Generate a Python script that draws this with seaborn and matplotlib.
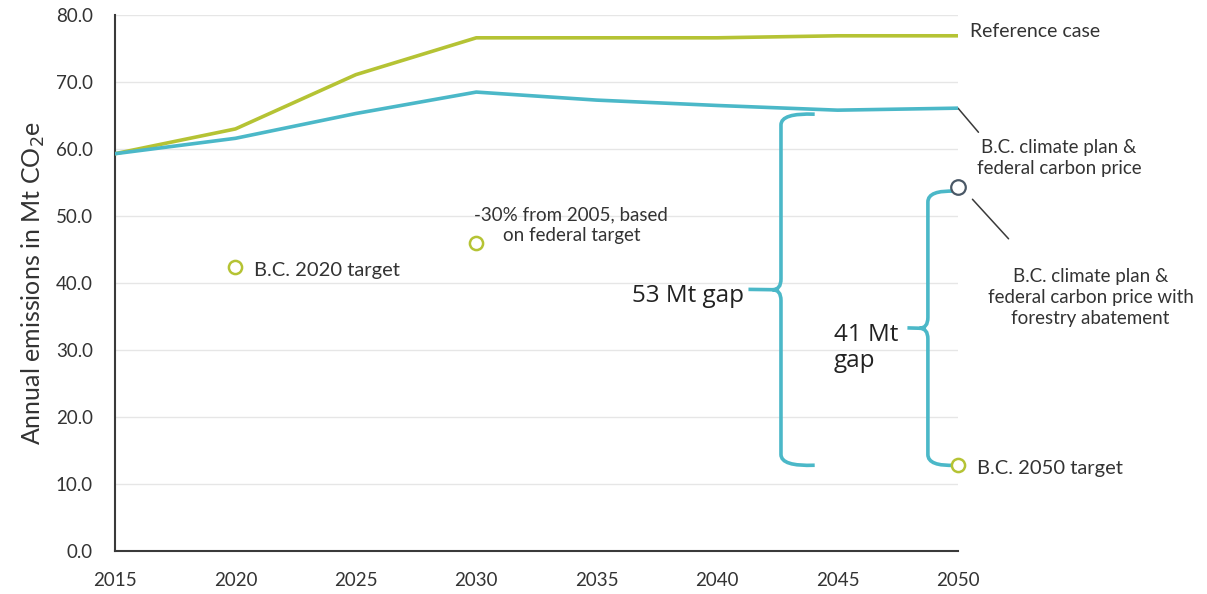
import numpy as np
import pandas as pd
import matplotlib.pyplot as plt
from matplotlib.path import Path
from matplotlib.patches import PathPatch
import seaborn as sns

# Daten
years = [2015, 2020, 2025, 2030, 2035, 2040, 2045, 2050]
reference_case = [59.3, 63.0, 71.1, 76.6, 76.6, 76.6, 76.9, 76.9]
climate_plan = [59.3, 61.6, 65.3, 68.5, 67.3, 66.5, 65.8, 66.1]
target_years = [2020, 2030, 2050]
target_values = [42.4, 46.0, 12.8]
forestry_year = 2050
forestry_value = 54.3
gap_53 = 53
gap_41 = 41

GREEN = "#b5c334"
TEAL = "#4bb8c8"
DARK = "#3a3a3a"

sns.set_style("white")
plt.rcParams['font.family'] = ['Lato', 'DejaVu Sans']

df = pd.DataFrame({"Year": years * 2,
                   "Emissions": reference_case + climate_plan,
                   "Scenario": ["Reference case"] * len(years) + ["B.C. climate plan"] * len(years)})

fig = plt.figure(figsize=(12.07, 5.94), dpi=100)
ax = fig.add_axes([0.0953, 0.0724, 0.6984, 0.9023])

sns.lineplot(data=df, x="Year", y="Emissions", hue="Scenario",
             palette={"Reference case": GREEN, "B.C. climate plan": TEAL},
             linewidth=2.6, legend=False, ax=ax, zorder=3)
sns.scatterplot(x=target_years, y=target_values, s=90, facecolor="white",
                edgecolor=GREEN, linewidth=1.8, ax=ax, zorder=5, clip_on=False)
sns.scatterplot(x=[forestry_year], y=[forestry_value], s=110, facecolor="white",
                edgecolor="#4a5866", linewidth=1.6, ax=ax, zorder=5, clip_on=False)

ax.set_xlim(2015, 2050)
ax.set_ylim(0, 80)
ax.set_xticks(range(2015, 2051, 5))
ax.set_yticks(range(0, 81, 10))
ax.set_yticklabels([f"{v:.1f}" for v in range(0, 81, 10)])
ax.grid(axis="y", color="#e6e6e6", linewidth=1)
ax.set_axisbelow(True)
for s in ["top", "right"]:
    ax.spines[s].set_visible(False)
for s in ["left", "bottom"]:
    ax.spines[s].set_color(DARK)
    ax.spines[s].set_linewidth(1.5)
ax.tick_params(axis="both", direction="out", length=6, width=1.3, color=DARK,
               labelsize=13.5, labelcolor="#333333")
ax.tick_params(axis="x", pad=9)
ax.tick_params(axis="y", pad=10)
ax.set_xlabel("")
ax.set_ylabel("Annual emissions in Mt CO$_2$e", fontsize=18, color="#333333", labelpad=6)


# geschweifte Klammer
def brace(ax, x, y0, y1, tip, mid_len, r=1.6):
    dx = 0.35
    ym = (y0 + y1) / 2
    verts = [(x + tip, y1), (x, y1 + 0.2), (x, y1 - r),
             (x, ym + r), (x, ym), (x - dx, ym),
             (x - mid_len, ym + 0.05),
             (x - dx, ym), (x, ym), (x, ym - r),
             (x, y0 + r), (x, y0 - 0.2), (x + tip, y0)]
    codes = [Path.MOVETO, Path.CURVE3, Path.CURVE3,
             Path.LINETO, Path.CURVE3, Path.CURVE3,
             Path.LINETO,
             Path.MOVETO, Path.CURVE3, Path.CURVE3,
             Path.LINETO, Path.CURVE3, Path.CURVE3]
    ax.add_patch(PathPatch(Path(verts, codes), fill=False, edgecolor=TEAL,
                           linewidth=2.6, capstyle="butt", zorder=4, clip_on=False))
    return ym


ym1 = brace(ax, 2042.65, target_values[2], climate_plan[6] - 0.6, 1.4, 1.35)
ym2 = brace(ax, 2048.75, target_values[2], forestry_value - 0.6, 1.15, 0.85)

ax.text(2041.1, ym1 - 0.9, f"{gap_53} Mt gap", fontsize=17.5, ha="right", va="center",
        color="#222222", family=["Open Sans", "DejaVu Sans"])
ax.text(2044.85, ym2 - 3.0, f"{gap_41} Mt\ngap", fontsize=17.5, ha="left", va="center",
        color="#222222", family=["Open Sans", "DejaVu Sans"], linespacing=1.1)

ax.text(2050.5, reference_case[-1] + 0.7, "Reference case", fontsize=14, color="#333333",
        va="center", clip_on=False)
ax.text(2054.2, 58.7, "B.C. climate plan &\nfederal carbon price", fontsize=13.5, color="#333333",
        ha="center", va="center", linespacing=1.3, clip_on=False)
ax.plot([2050, 2050.85], [climate_plan[-1], 62.5], color=DARK, linewidth=1.1, clip_on=False)
ax.plot([2050.6, 2052.1], [52.5, 46.6], color=DARK, linewidth=1.1, clip_on=False)
ax.text(2055.5, 37.8, "B.C. climate plan &\nfederal carbon price with\nforestry abatement",
        fontsize=13.5, color="#333333", ha="center", va="center", linespacing=1.3, clip_on=False)
ax.text(2050.8, target_values[2] - 0.5, "B.C. 2050 target", fontsize=14.5, color="#333333",
        va="center", clip_on=False)
ax.text(2020.75, target_values[0] - 0.5, "B.C. 2020 target", fontsize=14.5, color="#333333",
        va="center")
ax.text(2033.95, 48.6, "-30% from 2005, based\non federal target", fontsize=13.5, color="#333333",
        ha="center", va="center", linespacing=1.3)

fig.savefig("out.png", dpi=100)
